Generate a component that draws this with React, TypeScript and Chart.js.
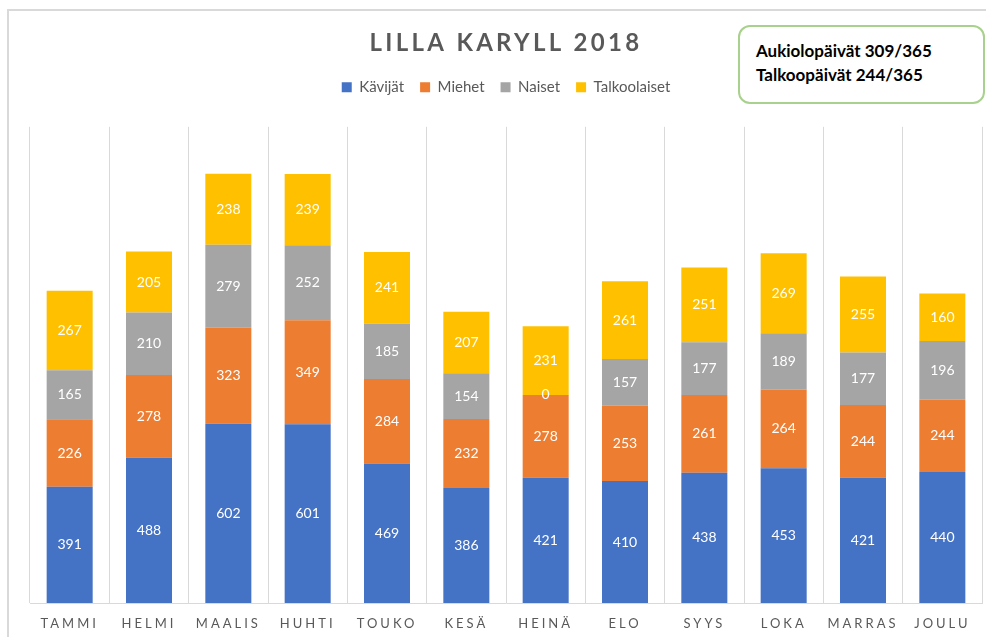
import React, { useEffect, useRef } from 'react';
import { Chart, registerables } from 'chart.js';

Chart.register(...registerables);

const chartTitle = 'LILLA KARYLL 2018';
const months = ['TAMMI', 'HELMI', 'MAALIS', 'HUHTI', 'TOUKO', 'KESÄ', 'HEINÄ', 'ELO', 'SYYS', 'LOKA', 'MARRAS', 'JOULU'];
const seriesNames = ['Kävijät', 'Miehet', 'Naiset', 'Talkoolaiset'];
const kavijat = [391, 488, 602, 601, 469, 386, 421, 410, 438, 453, 421, 440];
const miehet = [226, 278, 323, 349, 284, 232, 278, 253, 261, 264, 244, 244];
const naiset = [165, 210, 279, 252, 185, 154, 0, 157, 177, 189, 177, 196];
const talkoolaiset = [267, 205, 238, 239, 241, 207, 231, 261, 251, 269, 255, 160];
const colors = ['#4472C4', '#ED7D31', '#A5A5A5', '#FFC000'];
const infoLines = ['Aukiolopäivät 309/365', 'Talkoopäivät 244/365'];

const FONT = 'Lato, "Open Sans", sans-serif';

const dataLabelPlugin = {
  id: 'segmentLabels',
  afterDatasetsDraw(chart: any) {
    const ctx = chart.ctx;
    ctx.save();
    ctx.font = `14px ${FONT}`;
    ctx.fillStyle = '#ffffff';
    ctx.textAlign = 'center';
    ctx.textBaseline = 'middle';
    chart.data.datasets.forEach((ds: any, i: number) => {
      const meta = chart.getDatasetMeta(i);
      meta.data.forEach((el: any, j: number) => {
        const v = ds.data[j];
        ctx.fillText(String(v), el.x, (el.y + el.base) / 2);
      });
    });
    ctx.restore();
  },
};

const spacingPlugin = {
  id: 'letterSpacing',
  beforeLayout(chart: any) {
    const lg = chart.legend;
    if (lg && !lg.__gap) {
      const origFit = lg.fit;
      lg.fit = function (...args: any[]) {
        origFit.apply(this, args);
        this.height += 22;
      };
      lg.__gap = true;
    }
  },
  afterLayout(chart: any) {
    const xs = chart.scales.x;
    if (xs && !xs.__ls) {
      const orig = xs.drawLabels;
      xs.drawLabels = function (a: any) {
        const c = this.ctx;
        c.save();
        c.letterSpacing = '3px';
        orig.call(this, a);
        c.restore();
      };
      xs.__ls = true;
    }
    const tb = chart.titleBlock;
    if (tb && !tb.__ls) {
      const origT = tb.draw;
      tb.draw = function (...args: any[]) {
        const c = this.ctx;
        c.save();
        c.letterSpacing = '3.3px';
        origT.apply(this, args);
        c.restore();
      };
      tb.__ls = true;
    }
  },
};

export default function App() {
  const ref = useRef<HTMLCanvasElement | null>(null);
  useEffect(() => {
    if (!ref.current) return;
    const series = [kavijat, miehet, naiset, talkoolaiset];
    const chart = new Chart(ref.current, {
      type: 'bar',
      data: {
        labels: months,
        datasets: series.map((d, i) => ({
          label: seriesNames[i],
          data: d,
          backgroundColor: colors[i],
          borderWidth: 0,
          barPercentage: 0.58,
          categoryPercentage: 1,
        })),
      },
      options: {
        animation: false,
        responsive: false,
        maintainAspectRatio: false,
        layout: { padding: { left: 30, right: 4, top: 0, bottom: 0 } },
        plugins: {
          title: {
            display: true,
            text: chartTitle,
            color: '#595959',
            font: { family: FONT, size: 24, weight: 'bold' },
            padding: { top: 29, bottom: 6 },
          },
          legend: {
            display: true,
            position: 'top',
            labels: {
              color: '#595959',
              font: { family: FONT, size: 15 },
              boxWidth: 10,
              boxHeight: 10,
              padding: 16,
            },
          },
          tooltip: { enabled: false },
        },
        scales: {
          x: {
            stacked: true,
            afterFit: (s: any) => {
              s.height = 34;
            },
            grid: { display: true, color: '#d9d9d9', lineWidth: 1, drawTicks: false, offset: true },
            border: { display: true, color: '#d9d9d9', width: 1 },
            ticks: {
              color: '#595959',
              font: { family: FONT, size: 13 },
              padding: 13,
              autoSkip: false,
              maxRotation: 0,
            },
          },
          y: {
            stacked: true,
            display: false,
            min: 0,
            max: 1600,
          },
        },
      },
      plugins: [dataLabelPlugin, spacingPlugin],
    } as any);
    return () => chart.destroy();
  }, []);

  return (
    <div style={{ position: 'fixed', left: 0, top: 0, width: 986, height: 637, background: '#fff', overflow: 'hidden' }}>
      <div
        style={{
          position: 'absolute',
          left: 7,
          top: 9,
          width: 2000,
          height: 2000,
          borderLeft: '2px solid #d9d9d9',
          borderTop: '2px solid #d9d9d9',
        }}
      />
      <canvas ref={ref} width={986} height={637} style={{ position: 'absolute', left: 0, top: 0, width: 986, height: 637 }} />
      <div
        style={{
          position: 'absolute',
          left: 738,
          top: 25,
          width: 247,
          height: 79,
          border: '2px solid #a9d18e',
          borderRadius: 12,
          boxSizing: 'border-box',
          fontFamily: FONT,
          fontWeight: 'bold',
          fontSize: 17,
          lineHeight: '24px',
          color: '#000',
          padding: '12px 0 0 16px',
          background: '#fff',
        }}
      >
        {infoLines.map((t) => (
          <div key={t}>{t}</div>
        ))}
      </div>
    </div>
  );
}
